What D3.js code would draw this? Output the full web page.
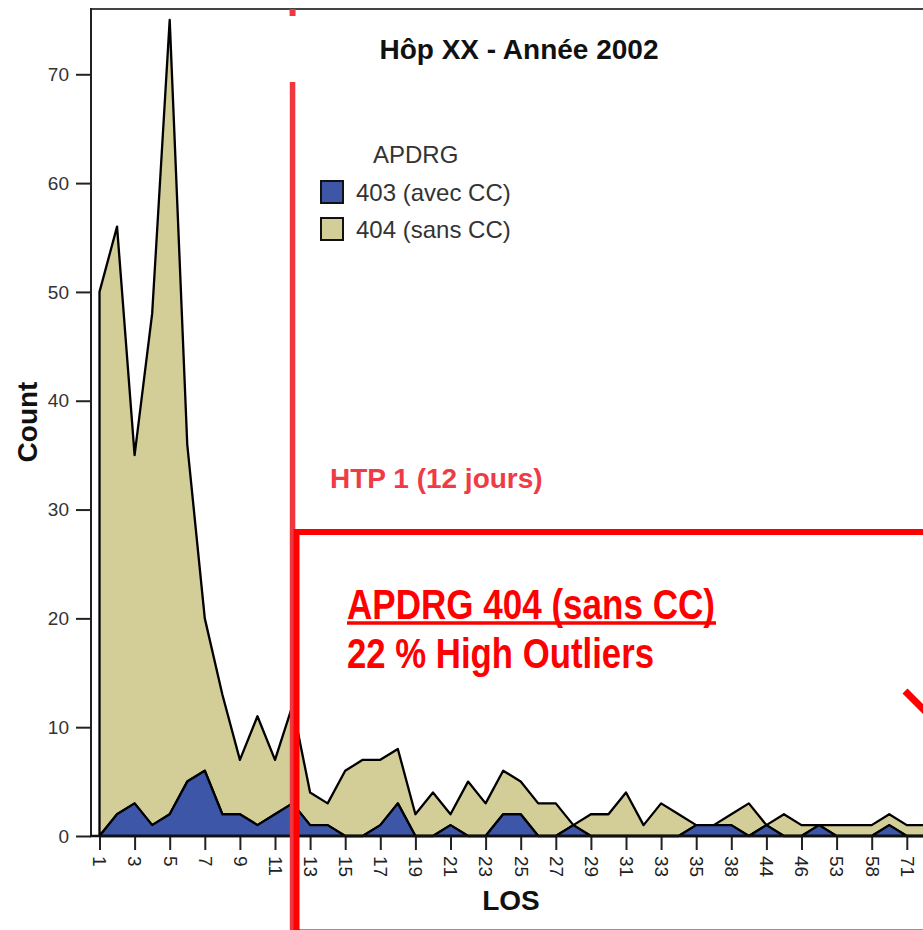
<!DOCTYPE html>
<html>
<head>
<meta charset="utf-8">
<script src="https://cdn.jsdelivr.net/npm/d3@7"></script>
<style>
  html, body { margin: 0; padding: 0; background: #fff; }
  svg { display: block; }
  text { font-family: "Liberation Sans", Arial, sans-serif; }
</style>
</head>
<body>
<svg id="chart" width="923" height="930"></svg>
<script>
// ---- data ----
const losCategories = ["1","2","3","4","5","6","7","8","9","10","11","12","13","14","15","16","17","18","19","20",
  "21","22","23","24","25","26","27","28","29","30","31","32","33","34","35","36","38","41","44","45","46","48",
  "53","56","58","62","71","84"];
const tickLabels = ["1","3","5","7","9","11","13","15","17","19","21","23","25","27","29","31","33","35","38","44","46","53","58","71"];
const apdrg403 = [0,2,3,1,2,5,6,2,2,1,2,3,1,1,0,0,1,3,0,0,
  1,0,0,2,2,0,0,1,0,0,0,0,0,0,1,1,1,0,1,0,0,1,
  0,0,0,1,0,0];
const totalCount = [50,56,35,48,75,36,20,13,7,11,7,12,4,3,6,7,7,8,2,4,
  2,5,3,6,5,3,3,1,2,2,4,1,3,2,1,1,2,3,1,2,1,1,
  1,1,1,2,1,1];
const apdrg404 = totalCount.map((t, i) => t - apdrg403[i]);
const yTicks = [0,10,20,30,40,50,60,70];
const seriesNames = ["403 (avec CC)", "404 (sans CC)"];
const seriesColors = ["#3d56a8", "#d3cd98"];

// ---- layout ----
const svg = d3.select("#chart");
const x = d3.scalePoint().domain(losCategories).range([99.5, 99.5 + 17.55 * (losCategories.length - 1)]);
const y = d3.scaleLinear().domain([0, 76]).range([836, 9]);

const rows = losCategories.map((c, i) => ({ los: c, s403: apdrg403[i], s404: apdrg404[i] }));
const stacked = d3.stack().keys(["s403", "s404"])(rows);

const area = d3.area()
  .x(d => x(d.data.los))
  .y0(d => y(d[0]))
  .y1(d => y(d[1]));

// frame top line
svg.append("line").attr("x1", 91).attr("x2", 923).attr("y1", 9).attr("y2", 9)
  .attr("stroke", "#444").attr("stroke-width", 2);

// areas (tan first so blue outline on top)
[1, 0].forEach(k => {
  svg.append("path")
    .datum(stacked[k])
    .attr("d", area)
    .attr("fill", seriesColors[k])
    .attr("stroke", "#000")
    .attr("stroke-width", 2.3)
    .attr("stroke-linejoin", "round");
});

// y axis
const yAxis = svg.append("g").attr("transform", "translate(91,0)")
  .call(d3.axisLeft(y).tickValues(yTicks).tickSize(15).tickPadding(7).tickFormat(d3.format("d")));
yAxis.select(".domain").remove();
yAxis.selectAll(".tick line").attr("stroke", "#222").attr("stroke-width", 2);
yAxis.selectAll(".tick text").attr("font-size", 19).attr("fill", "#333")
  .attr("font-family", "Liberation Sans, Arial, sans-serif");
svg.append("line").attr("x1", 91).attr("x2", 91).attr("y1", 8).attr("y2", 837)
  .attr("stroke", "#222").attr("stroke-width", 2);

// x axis
const xAxis = svg.append("g").attr("transform", "translate(0,836)")
  .call(d3.axisBottom(x).tickValues(tickLabels).tickSize(14).tickPadding(0));
xAxis.select(".domain").remove();
xAxis.selectAll(".tick line").attr("stroke", "#222").attr("stroke-width", 2);
xAxis.selectAll(".tick text")
  .attr("font-size", 19).attr("fill", "#222")
  .attr("font-family", "Liberation Sans, Arial, sans-serif")
  .attr("text-anchor", "start")
  .attr("transform", "translate(0,20) rotate(90)")
  .attr("x", 0).attr("y", 0).attr("dy", "0.35em");
svg.append("line").attr("x1", 90).attr("x2", 923).attr("y1", 836).attr("y2", 836)
  .attr("stroke", "#111").attr("stroke-width", 2.5);

// titles
svg.append("text").attr("x", 519).attr("y", 59).attr("text-anchor", "middle")
  .attr("font-size", 28).attr("font-weight", "bold").attr("fill", "#111")
  .text("Hôp XX - Année 2002");
svg.append("text").attr("x", 511).attr("y", 910).attr("text-anchor", "middle")
  .attr("font-size", 28).attr("font-weight", "bold").attr("fill", "#111")
  .text("LOS");
svg.append("text").attr("transform", "translate(37,422) rotate(-90)").attr("text-anchor", "middle")
  .attr("font-size", 28).attr("font-weight", "bold").attr("fill", "#111")
  .text("Count");

// legend
const legend = svg.append("g");
legend.append("text").attr("x", 373).attr("y", 163).attr("font-size", 24).attr("fill", "#333").text("APDRG");
seriesNames.forEach((name, i) => {
  legend.append("rect").attr("x", 321).attr("y", 181 + i * 37).attr("width", 22).attr("height", 22)
    .attr("fill", seriesColors[i]).attr("stroke", "#111").attr("stroke-width", 2);
  legend.append("text").attr("x", 356).attr("y", 201 + i * 36.5).attr("font-size", 24).attr("fill", "#333")
    .text(name);
});

// HTP annotation
const htpX = x("12");
svg.append("line").attr("x1", htpX).attr("x2", htpX).attr("y1", 9).attr("y2", 16)
  .attr("stroke", "#f0363e").attr("stroke-width", 6);
svg.append("line").attr("x1", htpX).attr("x2", htpX).attr("y1", 82).attr("y2", 930)
  .attr("stroke", "#f0363e").attr("stroke-width", 5.5);
svg.append("text").attr("x", 330).attr("y", 488).attr("font-size", 28).attr("font-weight", "bold")
  .attr("fill", "#ee3b45").text("HTP 1 (12 jours)");

// outlier box
svg.append("rect").attr("x", 296.5).attr("y", 532).attr("width", 700).attr("height", 400)
  .attr("fill", "none").attr("stroke", "#ff0000").attr("stroke-width", 6);
svg.append("line").attr("x1", 300).attr("x2", 923).attr("y1", 929.5).attr("y2", 929.5)
  .attr("stroke", "#f07070").attr("stroke-width", 1);

svg.append("text").attr("x", 347).attr("y", 619)
  .attr("font-family", "Liberation Sans Narrow, Arial Narrow, Liberation Sans, Arial, sans-serif")
  .attr("font-size", 43).attr("font-weight", "bold").attr("fill", "#ff0000")
  .attr("textLength", 368).attr("lengthAdjust", "spacingAndGlyphs")
  .text("APDRG 404 (sans CC)");
svg.append("line").attr("x1", 347).attr("x2", 716).attr("y1", 623).attr("y2", 623)
  .attr("stroke", "#ff0000").attr("stroke-width", 3.5);
svg.append("text").attr("x", 347).attr("y", 668)
  .attr("font-family", "Liberation Sans Narrow, Arial Narrow, Liberation Sans, Arial, sans-serif")
  .attr("font-size", 43).attr("font-weight", "bold").attr("fill", "#ff0000")
  .attr("textLength", 307).attr("lengthAdjust", "spacingAndGlyphs")
  .text("22 % High Outliers");

// arrow fragment at right edge
svg.append("line").attr("x1", 905).attr("y1", 691).attr("x2", 940).attr("y2", 726)
  .attr("stroke", "#ff0000").attr("stroke-width", 7);
</script>
</body>
</html>
